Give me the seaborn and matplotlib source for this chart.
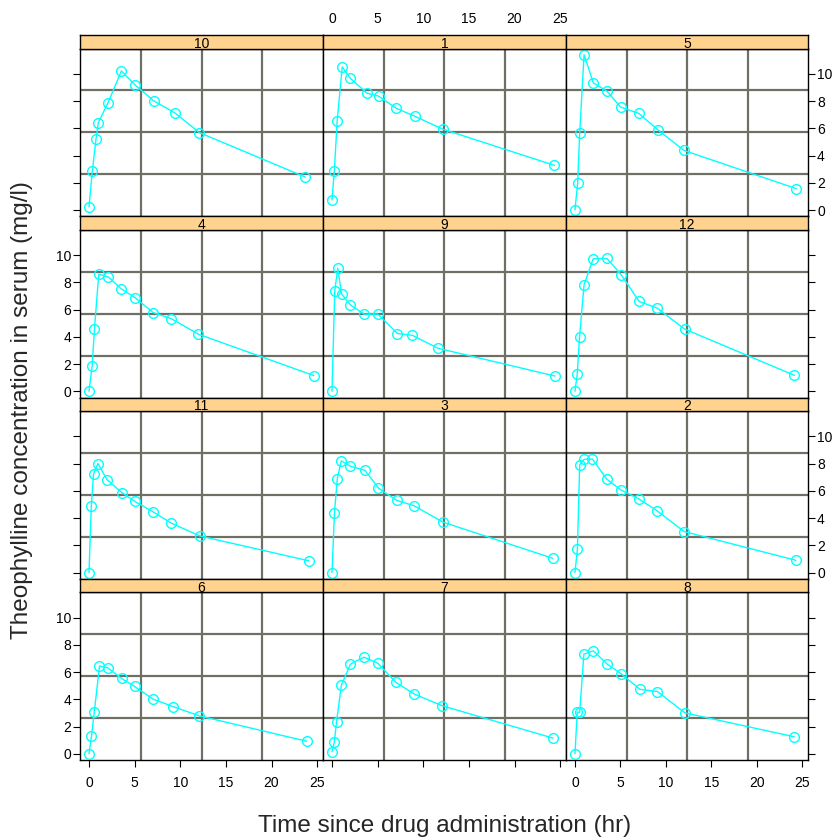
import pandas as pd
import numpy as np
import seaborn as sns
import matplotlib.pyplot as plt

# theophylline data, one pair of lists per subject
time_1 = [0, 0.25, 0.57, 1.12, 2.02, 3.82, 5.10, 7.03, 9.05, 12.12, 24.37]
conc_1 = [0.74, 2.84, 6.57, 10.50, 9.66, 8.58, 8.36, 7.47, 6.89, 5.94, 3.28]
time_2 = [0, 0.27, 0.52, 1.00, 1.92, 3.50, 5.02, 7.03, 9.00, 12.00, 24.30]
conc_2 = [0.00, 1.72, 7.91, 8.31, 8.33, 6.85, 6.08, 5.40, 4.55, 3.01, 0.90]
time_3 = [0, 0.27, 0.58, 1.02, 2.02, 3.62, 5.08, 7.07, 9.00, 12.15, 24.17]
conc_3 = [0.00, 4.40, 6.90, 8.20, 7.80, 7.50, 6.20, 5.30, 4.90, 3.70, 1.05]
time_4 = [0, 0.35, 0.60, 1.07, 2.13, 3.50, 5.02, 7.02, 9.02, 11.98, 24.65]
conc_4 = [0.00, 1.89, 4.60, 8.60, 8.38, 7.54, 6.88, 5.78, 5.33, 4.19, 1.15]
time_5 = [0, 0.30, 0.52, 1.00, 2.02, 3.50, 5.02, 7.02, 9.10, 12.00, 24.35]
conc_5 = [0.00, 2.02, 5.63, 11.40, 9.33, 8.74, 7.56, 7.09, 5.90, 4.37, 1.57]
time_6 = [0, 0.27, 0.58, 1.15, 2.03, 3.57, 5.00, 7.00, 9.22, 12.10, 23.85]
conc_6 = [0.00, 1.29, 3.08, 6.44, 6.32, 5.53, 4.94, 4.02, 3.46, 2.78, 0.92]
time_7 = [0, 0.25, 0.50, 1.02, 2.02, 3.48, 5.00, 6.98, 9.00, 12.05, 24.22]
conc_7 = [0.15, 0.85, 2.35, 5.02, 6.58, 7.09, 6.66, 5.25, 4.39, 3.53, 1.15]
time_8 = [0, 0.25, 0.52, 0.98, 2.02, 3.53, 5.05, 7.15, 9.07, 12.10, 24.12]
conc_8 = [0.00, 3.05, 3.05, 7.31, 7.56, 6.59, 5.88, 4.73, 4.57, 3.00, 1.25]
time_9 = [0, 0.30, 0.63, 1.05, 2.02, 3.53, 5.02, 7.17, 8.80, 11.60, 24.43]
conc_9 = [0.00, 7.37, 9.03, 7.14, 6.33, 5.66, 5.67, 4.24, 4.11, 3.16, 1.12]
time_10 = [0, 0.37, 0.77, 1.02, 2.05, 3.55, 5.05, 7.08, 9.38, 12.10, 23.70]
conc_10 = [0.24, 2.89, 5.22, 6.41, 7.83, 10.21, 9.18, 8.02, 7.14, 5.68, 2.42]
time_11 = [0, 0.25, 0.50, 0.98, 1.98, 3.60, 5.02, 7.03, 9.03, 12.12, 24.08]
conc_11 = [0.00, 4.86, 7.24, 8.00, 6.81, 5.87, 5.22, 4.45, 3.62, 2.69, 0.86]
time_12 = [0, 0.25, 0.50, 1.00, 2.00, 3.52, 5.07, 7.07, 9.03, 12.05, 24.15]
conc_12 = [0.00, 1.25, 3.96, 7.82, 9.72, 9.75, 8.57, 6.59, 6.11, 4.57, 1.17]

# panel order, left to right, top to bottom
panel_order = [10, 1, 5, 4, 9, 12, 11, 3, 2, 6, 7, 8]
x_ticks = [0, 5, 10, 15, 20, 25]
y_ticks = [0, 2, 4, 6, 8, 10]

times = [time_1, time_2, time_3, time_4, time_5, time_6,
         time_7, time_8, time_9, time_10, time_11, time_12]
concs = [conc_1, conc_2, conc_3, conc_4, conc_5, conc_6,
         conc_7, conc_8, conc_9, conc_10, conc_11, conc_12]

rows = []
for s, (t, c) in enumerate(zip(times, concs), start=1):
    for ti, ci in zip(t, c):
        rows.append({"Subject": s, "Time": ti, "conc": ci})
df = pd.DataFrame(rows)

sns.set_theme(style="white")
plt.rcParams['font.family'] = ['Liberation Sans', 'DejaVu Sans']

g = sns.FacetGrid(df, col="Subject", col_wrap=3, col_order=panel_order,
                  sharex=False, sharey=False, despine=False, height=2.5)
g.map_dataframe(sns.lineplot, x="Time", y="conc", color="cyan", marker="o",
                mfc="none", mec="cyan", mew=1, ms=7, lw=1,
                estimator=None, sort=False, zorder=3)
g.set_titles("")
g.set_axis_labels("", "")
fig = g.figure
fig.set_size_inches(8.39, 8.40)

# lattice style 4% padding on the data range
xlo, xhi = df["Time"].min(), df["Time"].max()
ylo, yhi = df["conc"].min(), df["conc"].max()
xpad = (xhi - xlo) * 0.04
ypad = (yhi - ylo) * 0.04

W, H = 839, 840
col_edges = [80, 323, 566, 808]
row_top = [35, 216.25, 397.5, 578.75]
strip_h = 13.5
row_h = 181.25

for i, ax in enumerate(g.axes.flat):
    r, c = divmod(i, 3)
    x0 = col_edges[c]
    x1 = col_edges[c + 1]
    ptop = row_top[r] + strip_h
    pbot = row_top[r] + row_h
    ax.set_position([x0 / W, 1 - pbot / H, (x1 - x0) / W, (pbot - ptop) / H])
    ax.set_xlim(xlo - xpad, xhi + xpad)
    ax.set_ylim(ylo - ypad, yhi + ypad)
    ax.set_xticks(x_ticks)
    ax.set_yticks(y_ticks)
    ax.set_xlabel("")
    ax.set_ylabel("")

    # panel grid, 3 equally spaced lines each way
    for f in [0.25, 0.5, 0.75]:
        ax.plot([f, f], [0, 1], transform=ax.transAxes, color="#6f6f66", lw=1.6, zorder=1)
        ax.plot([0, 1], [f, f], transform=ax.transAxes, color="#6f6f66", lw=1.6, zorder=1)

    for sp in ax.spines.values():
        sp.set_color("black")
        sp.set_linewidth(1)

    ax.tick_params(direction="out", length=5, width=0.8, color="black",
                   labelsize=10, labelcolor="black",
                   left=(c == 0), labelleft=(c == 0 and r in (1, 3)),
                   right=(c == 2), labelright=(c == 2 and r in (0, 2)),
                   top=(r == 0), labeltop=(r == 0 and c == 1),
                   bottom=(r == 3), labelbottom=(r == 3 and c in (0, 2)))
    ax.tick_params(axis="y", pad=1.5)
    ax.tick_params(axis="x", pad=11 if r == 0 else 6.5)

    # strip on top of each panel
    sax = fig.add_axes([x0 / W, 1 - ptop / H, (x1 - x0) / W, strip_h / H])
    sax.set_facecolor("#ffd28e")
    sax.set_xticks([])
    sax.set_yticks([])
    for sp in sax.spines.values():
        sp.set_color("black")
        sp.set_linewidth(1)
    sax.text(0.5, 0.35, str(panel_order[i]), ha="center", va="center",
             fontsize=10, color="black", transform=sax.transAxes, clip_on=True)

fig.text(445 / W, 1 - 826 / H, "Time since drug administration (hr)",
         ha="center", va="center", fontsize=17.5)
fig.text(22 / W, 1 - 410 / H, "Theophylline concentration in serum (mg/l)",
         ha="center", va="center", rotation=90, fontsize=17.5)

fig.savefig("out.png", dpi=100)
